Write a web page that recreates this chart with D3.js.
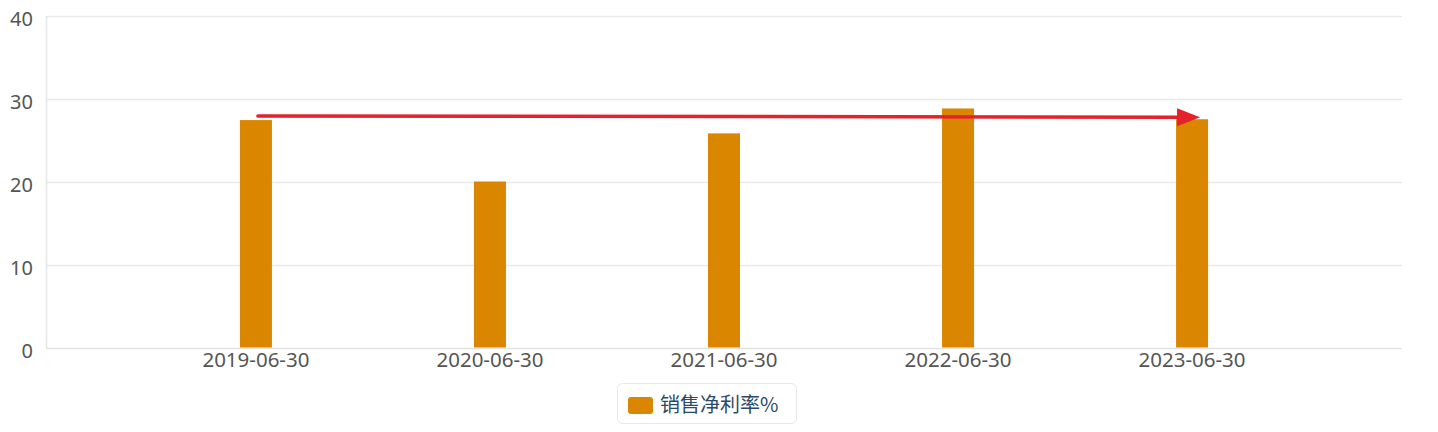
<!DOCTYPE html>
<html>
<head>
<meta charset="utf-8">
<script src="https://cdn.jsdelivr.net/npm/d3@7/dist/d3.min.js"></script>
<style>
  html, body { margin: 0; padding: 0; background: #fff; }
  svg { display: block; }
</style>
</head>
<body>
<svg id="chart" width="1438" height="432"></svg>
<script>
// ---- data ----
const categories = ["2019-06-30", "2020-06-30", "2021-06-30", "2022-06-30", "2023-06-30"];
const netMargin = [27.4, 20.0, 25.8, 28.8, 27.5];
const yTicks = [0, 10, 20, 30, 40];
const seriesName = "销售净利率%";
// trend arrow annotation (data units)
const arrowFrom = { cat: "2019-06-30", value: 27.9 };
const arrowTo = { cat: "2023-06-30", value: 27.75 };

(function () {
// ---- layout ----
const plotL = 46, plotR = 1402, plotT = 15.5, plotB = 347.5;
const svg = d3.select("#chart");
const fontFamily = "'Noto Sans', 'Noto Sans CJK SC', sans-serif";

const x = d3.scalePoint().domain(categories).range([plotL, plotR]).padding(0.897);
const y = d3.scaleLinear().domain([0, 40]).range([plotB, plotT]);

// gridlines
svg.append("g").selectAll("line")
  .data(yTicks.filter(t => t > 0))
  .join("line")
  .attr("x1", plotL).attr("x2", plotR)
  .attr("y1", d => Math.round(y(d)) + 0.5)
  .attr("y2", d => Math.round(y(d)) + 0.5)
  .attr("stroke", "#e9e9e9").attr("stroke-width", 1.5);

// axes lines
svg.append("line")
  .attr("x1", plotL + 0.5).attr("x2", plotL + 0.5)
  .attr("y1", Math.round(plotT)).attr("y2", Math.round(plotB) + 0.5)
  .attr("stroke", "#e6e6e6").attr("stroke-width", 1.5);
svg.append("line")
  .attr("x1", plotL).attr("x2", plotR)
  .attr("y1", Math.round(plotB) + 0.5).attr("y2", Math.round(plotB) + 0.5)
  .attr("stroke", "#e3e3e3").attr("stroke-width", 1.5);

// y tick labels
svg.append("g").selectAll("text")
  .data(yTicks)
  .join("text")
  .attr("x", 33)
  .attr("y", d => y(d) + 10)
  .attr("text-anchor", "end")
  .attr("font-family", fontFamily)
  .attr("font-size", 20)
  .attr("fill", "#555")
  .text(d => d);

// x tick labels
svg.append("g").selectAll("text")
  .data(categories)
  .join("text")
  .attr("x", d => x(d))
  .attr("y", 367)
  .attr("text-anchor", "middle")
  .attr("font-family", fontFamily)
  .attr("font-size", 20.5)
  .attr("fill", "#555")
  .text(d => d);

// bars
const barW = 32;
svg.append("g").selectAll("rect")
  .data(categories.map((c, i) => ({ c, v: netMargin[i] })))
  .join("rect")
  .attr("x", d => x(d.c) - barW / 2)
  .attr("y", d => y(d.v))
  .attr("width", barW)
  .attr("height", d => y(0) - y(d.v))
  .attr("fill", "#da8600");

// trend arrow
const x1 = x(arrowFrom.cat) + 2, y1 = y(arrowFrom.value);
const tipX = x(arrowTo.cat) + 8, tipY = y(arrowTo.value);
const baseX = tipX - 23;
svg.append("line")
  .attr("x1", x1).attr("y1", y1)
  .attr("x2", baseX + 2).attr("y2", tipY)
  .attr("stroke", "#e3222b").attr("stroke-width", 3.5)
  .attr("stroke-linecap", "round");
svg.append("path")
  .attr("d", `M${baseX},${tipY - 9}L${tipX},${tipY}L${baseX},${tipY + 9}Z`)
  .attr("fill", "#e3222b");

// legend
const lg = svg.append("g");
lg.append("rect")
  .attr("x", 617.5).attr("y", 383.5).attr("width", 179).attr("height", 40)
  .attr("rx", 5).attr("fill", "#fff")
  .attr("stroke", "#e8e8e8").attr("stroke-width", 1);
lg.append("rect")
  .attr("x", 628).attr("y", 397).attr("width", 25).attr("height", 17)
  .attr("rx", 3).attr("fill", "#da8600");
lg.append("text")
  .attr("x", 660).attr("y", 412)
  .attr("font-family", "'Noto Sans CJK SC', 'Noto Sans', sans-serif")
  .attr("font-size", 20)
  .attr("fill", "#2b4a6a")
  .text(seriesName);
})();
</script>
</body>
</html>
